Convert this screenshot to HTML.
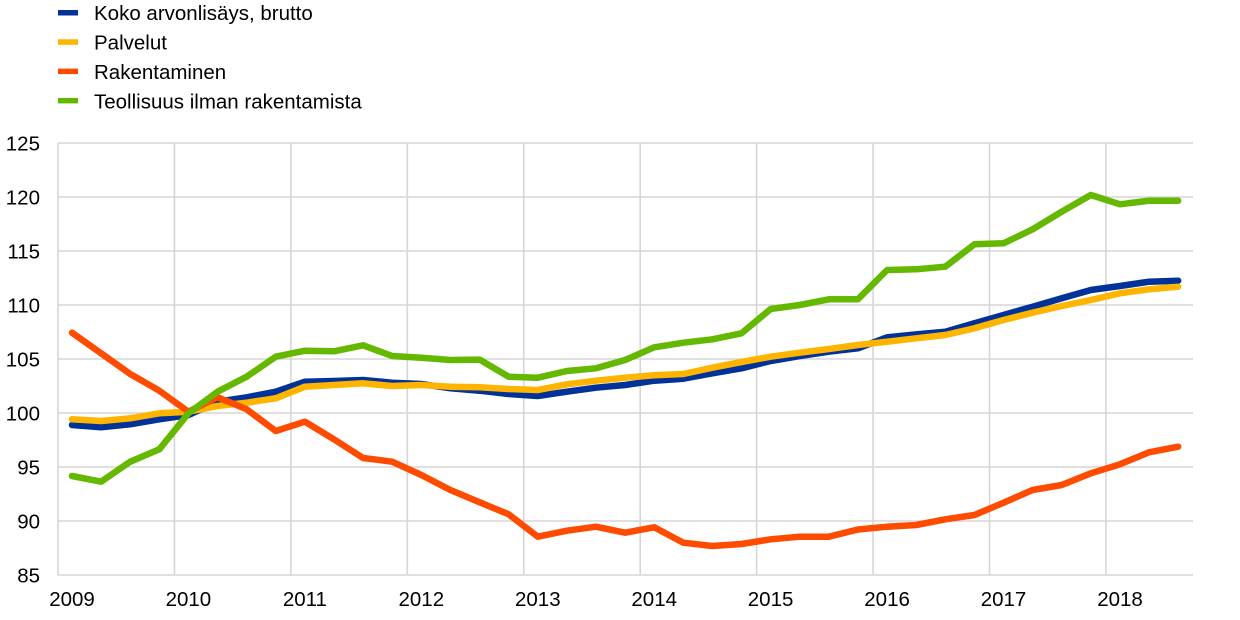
<!DOCTYPE html>
<html>
<head>
<meta charset="utf-8">
<style>
  html, body { margin: 0; padding: 0; background: #ffffff; }
  body { width: 1240px; height: 620px; overflow: hidden; }
  svg { display: block; font-family: "Liberation Sans", Arial, sans-serif; }
</style>
</head>
<body>
<svg width="1240" height="620" viewBox="0 0 1240 620" xmlns="http://www.w3.org/2000/svg">
  <rect x="0" y="0" width="1240" height="620" fill="#ffffff"/>

  <!-- Legend -->
  <g font-size="20.5" fill="#000000">
    <rect x="58" y="10" width="20" height="5.5" fill="#003299"/>
    <text x="94" y="20">Koko arvonlisäys, brutto</text>
    <rect x="58" y="39.3" width="20" height="5.5" fill="#ffb400"/>
    <text x="94" y="49.3">Palvelut</text>
    <rect x="58" y="68.6" width="20" height="5.5" fill="#ff4b00"/>
    <text x="94" y="79">Rakentaminen</text>
    <rect x="58" y="97.9" width="20" height="5.5" fill="#65b800"/>
    <text x="94" y="108.3">Teollisuus ilman rakentamista</text>
  </g>

  <!-- Grid -->
  <g stroke="#d6d6d6" stroke-width="1.6" fill="none">
    <line x1="58" y1="143" x2="1193" y2="143"/>
    <line x1="58" y1="197" x2="1193" y2="197"/>
    <line x1="58" y1="251" x2="1193" y2="251"/>
    <line x1="58" y1="305" x2="1193" y2="305"/>
    <line x1="58" y1="359" x2="1193" y2="359"/>
    <line x1="58" y1="413" x2="1193" y2="413"/>
    <line x1="58" y1="467" x2="1193" y2="467"/>
    <line x1="58" y1="521" x2="1193" y2="521"/>
    <line x1="58" y1="575" x2="1193" y2="575"/>
    <line x1="58" y1="143" x2="58" y2="575"/>
    <line x1="174.44" y1="143" x2="174.44" y2="575"/>
    <line x1="290.88" y1="143" x2="290.88" y2="575"/>
    <line x1="407.32" y1="143" x2="407.32" y2="575"/>
    <line x1="523.76" y1="143" x2="523.76" y2="575"/>
    <line x1="640.2" y1="143" x2="640.2" y2="575"/>
    <line x1="756.64" y1="143" x2="756.64" y2="575"/>
    <line x1="873.08" y1="143" x2="873.08" y2="575"/>
    <line x1="989.52" y1="143" x2="989.52" y2="575"/>
    <line x1="1105.96" y1="143" x2="1105.96" y2="575"/>
  </g>

  <!-- Y axis labels -->
  <g font-size="20.5" fill="#000000" text-anchor="end">
    <text x="40" y="150.5">125</text>
    <text x="40" y="204.5">120</text>
    <text x="40" y="258.5">115</text>
    <text x="40" y="312.5">110</text>
    <text x="40" y="366.5">105</text>
    <text x="40" y="420.5">100</text>
    <text x="40" y="474.5">95</text>
    <text x="40" y="528.5">90</text>
    <text x="40" y="582.5">85</text>
  </g>

  <!-- X axis labels -->
  <g font-size="20.5" fill="#000000" text-anchor="middle">
    <text x="72" y="606">2009</text>
    <text x="188.4" y="606">2010</text>
    <text x="304.9" y="606">2011</text>
    <text x="421.3" y="606">2012</text>
    <text x="537.8" y="606">2013</text>
    <text x="654.2" y="606">2014</text>
    <text x="770.6" y="606">2015</text>
    <text x="887.1" y="606">2016</text>
    <text x="1003.5" y="606">2017</text>
    <text x="1120" y="606">2018</text>
  </g>

  <!-- Series -->
  <g fill="none" stroke-width="6.5" stroke-linecap="round" stroke-linejoin="round">
    <!-- Koko arvonlisäys, brutto -->
    <polyline stroke="#003299" points="72,425 101.11,427.3 130.22,424.3 159.33,419.3 188.44,415 217.55,401.7 246.66,397.3 275.77,391.7 304.88,381.7 333.99,381 363.1,380 392.21,382.7 421.32,384 450.43,388.3 479.54,390.7 508.65,394 537.76,396 566.87,391.7 595.98,387.7 625.09,385 654.2,380.7 683.31,378.7 712.42,373.3 741.53,368.3 770.64,361 799.75,356 828.86,351.7 857.97,348.3 887.08,337.3 916.19,334.3 945.3,331.7 974.41,323.3 1003.52,315 1032.63,306.7 1061.74,298.3 1090.85,290 1119.96,286 1149.07,281.7 1178.18,280.7"/>
    <!-- Palvelut -->
    <polyline stroke="#ffb400" points="72,419.3 101.11,421 130.22,418.3 159.33,413.3 188.44,411.7 217.55,406 246.66,402.7 275.77,398.3 304.88,386.7 333.99,385 363.1,383.3 392.21,386 421.32,385 450.43,386.7 479.54,387.3 508.65,389 537.76,390 566.87,384.3 595.98,380.7 625.09,377.7 654.2,375.3 683.31,374 712.42,367.7 741.53,362 770.64,356.7 799.75,352.7 828.86,349 857.97,345 887.08,341.7 916.19,338.3 945.3,335 974.41,328.3 1003.52,320 1032.63,312.7 1061.74,306 1090.85,300 1119.96,293.3 1149.07,289.3 1178.18,286.7"/>
    <!-- Rakentaminen -->
    <polyline stroke="#ff4b00" points="72,332.7 101.11,353.3 130.22,374 159.33,390.7 188.44,411.7 217.55,397.3 246.66,409.3 275.77,431 304.88,421.7 333.99,439.3 363.1,458 392.21,461.7 421.32,475 450.43,490 479.54,502.3 508.65,514.3 537.76,536.7 566.87,530.7 595.98,526.7 625.09,532.7 654.2,527.3 683.31,542.7 712.42,546 741.53,544 770.64,539.3 799.75,536.7 828.86,536.7 857.97,529.5 887.08,526.7 916.19,525 945.3,519.3 974.41,515 1003.52,502.7 1032.63,490 1061.74,485 1090.85,473.3 1119.96,464.3 1149.07,452.3 1178.18,446.7"/>
    <!-- Teollisuus ilman rakentamista -->
    <polyline stroke="#65b800" points="72,476 101.11,481.7 130.22,461.7 159.33,449.3 188.44,413.3 217.55,391.7 246.66,376.7 275.77,356.7 304.88,350.7 333.99,351.3 363.1,345.3 392.21,356 421.32,357.7 450.43,360 479.54,359.6 508.65,376.7 537.76,377.7 566.87,371 595.98,368.3 625.09,360 654.2,347.3 683.31,342.7 712.42,339.3 741.53,333.3 770.64,309 799.75,305 828.86,299.3 857.97,299.2 887.08,270 916.19,269.3 945.3,266.7 974.41,244.3 1003.52,243.3 1032.63,229.3 1061.74,211.7 1090.85,195 1119.96,204.3 1149.07,200.7 1178.18,200.7"/>
  </g>
</svg>
</body>
</html>
